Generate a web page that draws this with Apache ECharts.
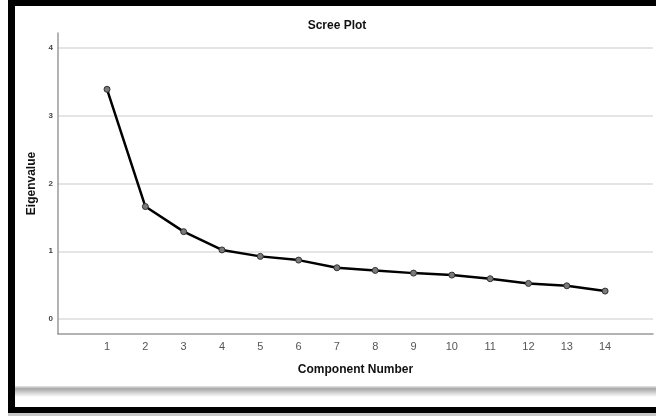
<!DOCTYPE html>
<html>
<head>
<meta charset="utf-8">
<script src="https://cdn.jsdelivr.net/npm/echarts@6/dist/echarts.min.js"></script>
<style>
html,body{margin:0;padding:0;background:#fff;}
#chart{width:656px;height:416px;}
</style>
</head>
<body>
<div id="chart"></div>
<script>
const components = [1,2,3,4,5,6,7,8,9,10,11,12,13,14];
const eigenvalues = [3.39,1.66,1.29,1.02,0.925,0.87,0.757,0.718,0.678,0.649,0.595,0.526,0.491,0.413];
const yTicks = [0,1,2,3,4];
const xTicks = components;

const chart = echarts.init(document.getElementById('chart'), null, {renderer:'canvas'});
const font = '"Liberation Sans", Arial, sans-serif';
chart.setOption({
  animation:false,
  backgroundColor:'#fff',
  title:{
    text:'Scree Plot', left:332, top:15, textAlign:'center',
    textStyle:{fontFamily:font, fontSize:12, fontWeight:'bold', color:'#111'}
  },
  grid:{left:58, right:3, top:33, bottom:82, containLabel:false},
  xAxis:{
    type:'value', min:-0.28, max:15.25,
    name:'Component Number', nameLocation:'middle', nameGap:30,
    nameTextStyle:{fontFamily:font, fontSize:12, fontWeight:'bold', color:'#111'},
    axisLine:{show:true, onZero:false, lineStyle:{color:'#9a9a9a', width:1.5}},
    axisTick:{show:false, customValues:xTicks},
    axisLabel:{customValues:xTicks, fontFamily:font, fontSize:11, color:'#555', margin:7},
    splitLine:{show:false}
  },
  yAxis:{
    type:'value', min:-0.22, max:4.22,
    name:'Eigenvalue', nameLocation:'middle', nameGap:19,
    nameTextStyle:{fontFamily:font, fontSize:12, fontWeight:'bold', color:'#111'},
    axisLine:{show:true, onZero:false, lineStyle:{color:'#9a9a9a', width:1.5}},
    axisTick:{show:false, customValues:yTicks},
    axisLabel:{customValues:yTicks, fontFamily:font, fontSize:8, fontWeight:'bold', color:'#444', margin:5},
    splitLine:{show:true, lineStyle:{color:'#dcdcdc', width:1.5}}
  },
  series:[{
    type:'line',
    data: components.map((c,i)=>[c, eigenvalues[i]]),
    lineStyle:{color:'#000', width:2.5},
    symbol:'circle', symbolSize:6,
    itemStyle:{color:'#7a7a7a', borderColor:'#333', borderWidth:1},
    z:5
  }],
  graphic:[
    {type:'rect', shape:{x:15, y:386, width:641, height:11}, style:{fill:new echarts.graphic.LinearGradient(0,0,0,1,[{offset:0,color:'#e8e8e8'},{offset:0.25,color:'#a8a8a8'},{offset:1,color:'#ffffff'}])}, z:100},
    {type:'rect', shape:{x:8, y:0, width:648, height:6}, style:{fill:'#000'}, z:101},
    {type:'rect', shape:{x:8, y:0, width:7, height:413}, style:{fill:'#000'}, z:101},
    {type:'rect', shape:{x:8, y:407, width:648, height:6}, style:{fill:'#000'}, z:101},
    {type:'rect', shape:{x:8, y:413, width:648, height:3}, style:{fill:'#c8c8c8'}, z:101}
  ]
});
</script>
</body>
</html>
